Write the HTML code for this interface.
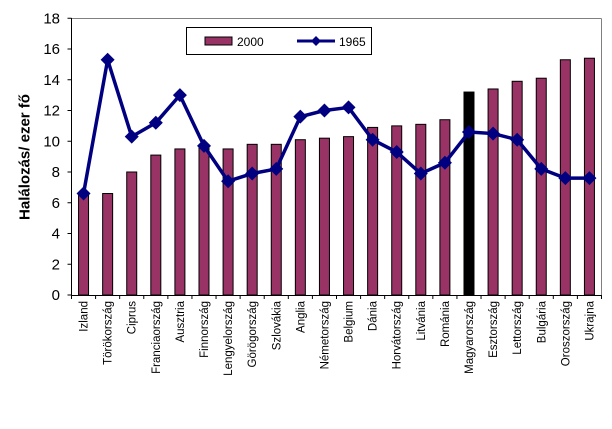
<!DOCTYPE html>
<html><head><style>body{margin:0;background:#fff}svg{display:block}text{font-family:"Liberation Sans",sans-serif}</style></head><body>
<svg width="612" height="429" viewBox="0 0 612 429" xmlns="http://www.w3.org/2000/svg">
<rect width="612" height="429" fill="#fff"/>
<line x1="71.5" y1="18.5" x2="601.5" y2="18.5" stroke="#808080"/>
<line x1="601.5" y1="18.5" x2="601.5" y2="295" stroke="#808080"/>
<g id="bars" stroke="#000" stroke-width="1"></g>
<g id="axes" stroke="#000" stroke-width="1"></g>
<g id="ylab" font-size="15" text-anchor="end"></g>
<polyline id="line" fill="none" stroke="#000080" stroke-width="3.5" stroke-linejoin="round"/>
<g id="marks" fill="#000080"></g>
<g id="xlab" font-size="11.5"></g>
<text transform="translate(25,157) rotate(-90)" font-size="15" font-weight="bold" text-anchor="middle" dominant-baseline="central">Halálozás/ ezer fő</text>
<rect x="186.5" y="27.5" width="185" height="27" fill="#fff" stroke="#000"/>
<rect x="205" y="37" width="27" height="8" fill="#993366" stroke="#000"/>
<text x="237" y="46" font-size="12">2000</text>
<line x1="297" y1="41" x2="335" y2="41" stroke="#000080" stroke-width="3"/>
<path d="M316 36 L321 41 L316 46 L311 41Z" fill="#000080"/>
<text x="339" y="46" font-size="12">1965</text>
<script>
var names=["Izland","Törökország","Ciprus","Franciaország","Ausztria","Finnország","Lengyelország","Görögország","Szlovákia","Anglia","Németország","Belgium","Dánia","Horvátország","Litvánia","Románia","Magyarország","Esztország","Lettország","Bulgária","Oroszország","Ukrajna"];
var b=[6.6,6.6,8.0,9.1,9.5,9.6,9.5,9.8,9.8,10.1,10.2,10.3,10.9,11.0,11.1,11.4,13.2,13.4,13.9,14.1,15.3,15.4];
var l=[6.6,15.3,10.3,11.2,13.0,9.7,7.4,7.9,8.2,11.6,12.0,12.2,10.1,9.3,7.9,8.6,10.6,10.5,10.1,8.2,7.6,7.6];
var ns="http://www.w3.org/2000/svg",X0=71.5,W=24.09,Y=v=>295-v*15.375;
function el(t,a,p){var e=document.createElementNS(ns,t);for(var k in a)e.setAttribute(k,a[k]);document.getElementById(p).appendChild(e);return e;}
var pts=[];
for(var i=0;i<22;i++){var cx=X0+W*(i+0.5);
el("rect",{x:cx-5,y:Y(b[i]),width:10,height:295-Y(b[i]),fill:i==16?"#000":"#993366"},"bars");
pts.push(cx+","+Y(l[i]));
el("path",{d:"M"+cx+" "+(Y(l[i])-7)+" l7 7 l-7 7 l-7 -7Z"},"marks");
var t=el("text",{transform:"translate("+(cx+4)+",301) rotate(-90)","text-anchor":"end"},"xlab");t.textContent=names[i];
el("line",{x1:X0+W*i,y1:295,x2:X0+W*i,y2:299},"axes");}
el("line",{x1:X0+W*22,y1:295,x2:X0+W*22,y2:299},"axes");
document.getElementById("line").setAttribute("points",pts.join(" "));
el("line",{x1:X0,y1:18,x2:X0,y2:295},"axes");
el("line",{x1:X0,y1:295.5,x2:601.5,y2:295.5},"axes");
for(var v=0;v<=18;v+=2){el("line",{x1:X0-4,y1:Y(v),x2:X0,y2:Y(v)},"axes");var t=el("text",{x:60,y:Y(v)+5},"ylab");t.textContent=v;}
</script>
</svg>
</body></html>
